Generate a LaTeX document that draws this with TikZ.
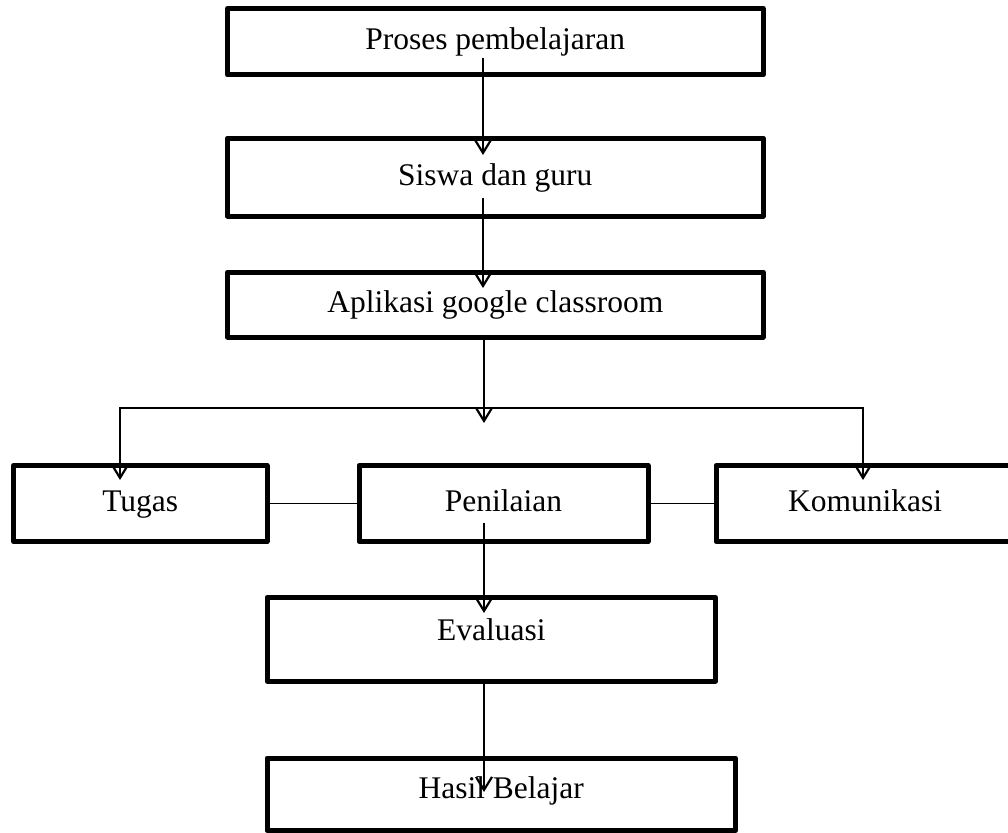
\documentclass[tikz,border=0pt]{standalone}
\usepackage{fontspec}
\setmainfont{Liberation Serif}
\usetikzlibrary{arrows.meta}
\tikzset{
  box/.style={draw=black, line width=5pt, line join=round, rectangle, inner sep=0pt,
    font=\fontsize{31.5}{36}\selectfont, text height=21pt, text depth=5pt},
  conn/.style={draw=black, line width=2.2pt},
  flow/.style={conn, -{Straight Barb[length=13pt,width=16pt]}},
  link/.style={draw=black, line width=1.6pt}
}
\begin{document}
\begin{tikzpicture}[x=1pt,y=-1pt]
\useasboundingbox (0,0) rectangle (1008,832);
% boxes
\node[box, minimum width=535.5pt, minimum height=66.5pt] (b1) at (495.25,41.75) {Proses pembelajaran};
\node[box, minimum width=535.5pt, minimum height=78pt] (b2) at (495.25,177) {Siswa dan guru};
\node[box, minimum width=535.5pt, minimum height=65pt] (b3) at (495.25,304.5) {Aplikasi google classroom};
\node[box, minimum width=253.5pt, minimum height=76pt] (b4) at (140.25,503.5) {Tugas};
\node[box, minimum width=289pt, minimum height=76pt] (b5) at (503.5,503.5) {Penilaian};
\node[box, minimum width=298pt, minimum height=76pt] (b6) at (865,503.5) {Komunikasi};
\node[box, minimum width=448.5pt, minimum height=83.5pt, text depth=19pt] (b7) at (491.25,639.25) {Evaluasi};
\node[box, minimum width=468.5pt, minimum height=72.5pt, text depth=12pt] (b8) at (501.25,794.25) {Hasil Belajar};
% connector end points
\coordinate (a1s) at (483,58);  \coordinate (a1e) at (483,155);
\coordinate (a2s) at (483,198); \coordinate (a2e) at (483,288);
\coordinate (a3s) at (484,337); \coordinate (a3e) at (484,423);
\coordinate (hl) at (120,408);  \coordinate (hr) at (863,408);
\coordinate (tl) at (120,480);  \coordinate (tr) at (863,480);
\coordinate (a4s) at (484,523); \coordinate (a4e) at (484,613);
\coordinate (a5s) at (484,681); \coordinate (a5e) at (484,792);
% connectors
\draw[flow] (a1s) -- (a1e);
\draw[flow] (a2s) -- (a2e);
\draw[flow] (a3s) -- (a3e);
\draw[conn, {Straight Barb[length=13pt,width=16pt]}-{Straight Barb[length=13pt,width=16pt]}] (tl) -- (hl) -- (hr) -- (tr);
\draw[link] (b4.east) -- (b5.west);
\draw[link] (b5.east) -- (b6.west);
\draw[flow] (a4s) -- (a4e);
\draw[flow] (a5s) -- (a5e);
\end{tikzpicture}
\end{document}
